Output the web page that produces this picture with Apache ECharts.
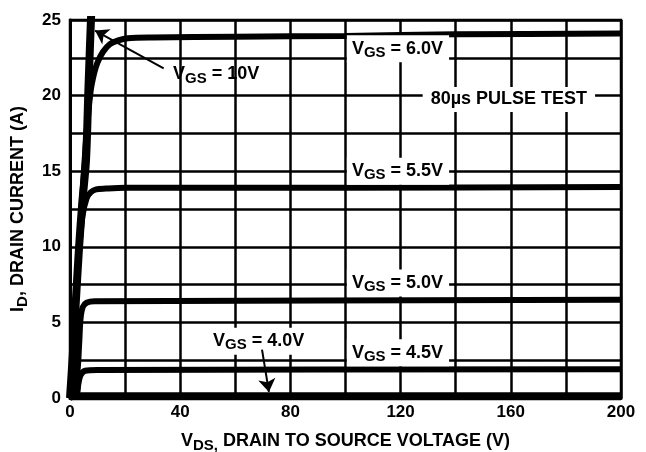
<!DOCTYPE html>
<html>
<head>
<meta charset="utf-8">
<script src="https://cdn.jsdelivr.net/npm/echarts@6/dist/echarts.min.js"></script>
<style>html,body{margin:0;padding:0;background:#fff}#chart{width:646px;height:452px}</style>
</head>
<body>
<div id="chart"></div>
<script>
// output characteristics
const vds10 = [0, 1, 2, 3.3, 4.5, 5.8, 6.7, 7.6, 7.9];
const id10  = [0, 2.8, 6, 10, 13, 15.7, 20.5, 25, 26];
const vds60 = [0, 2, 4, 6, 7.5, 8.8, 10, 12, 14.5, 17.5, 21, 30, 60, 100, 140, 200];
const id60  = [0, 6, 12, 17.5, 20.3, 21.5, 22.2, 22.9, 23.4, 23.65, 23.8, 23.85, 23.9, 23.95, 24.05, 24.1];
const vds55 = [0, 1.5, 3, 4.5, 6, 7.5, 9.5, 13, 20, 100, 200];
const id55  = [0, 4.5, 9, 12, 13.2, 13.6, 13.8, 13.85, 13.9, 13.9, 13.95];
const vds50 = [0, 2.5, 3.3, 3.8, 4.6, 6, 9, 200];
const id50  = [0, 1.5, 3.5, 5.2, 6.0, 6.3, 6.4, 6.5];
const vds45 = [0, 2.5, 3, 3.8, 5.5, 10, 200];
const id45  = [0, 0.3, 0.9, 1.5, 1.8, 1.85, 1.9];
const vds40 = [0, 200];
const id40  = [0.12, 0.12];

const xLabelStep = 40;
const yLabelStep = 5;

const font = "'Liberation Sans', Arial, sans-serif";
const rich = {
    v: {fontSize: 18, fontWeight: 'bold', fontFamily: font, color: '#000', lineHeight: 19},
    s: {fontSize: 15, fontWeight: 'bold', fontFamily: font, color: '#000', padding: [8, 0, 0, 0]}
};

function pairs(xs, ys) {
    return xs.map(function (x, i) { return [x, ys[i]]; });
}

function curve(name, xs, ys, w) {
    return {
        name: name,
        type: 'line',
        data: pairs(xs, ys),
        smooth: 0.3,
        showSymbol: false,
        symbol: 'none',
        lineStyle: {color: '#000', width: w},
        z: 3,
        silent: true
    };
}

const notes = [
    {value: [35.6, 21.4], label: {formatter: '{v|V}{s|GS}{v| = 10V}', backgroundColor: 'transparent'}},
    {value: [100.5, 23.1], label: {formatter: '{v|V}{s|GS}{v| = 6.0V}'}},
    {value: [159.3, 19.75], label: {formatter: '{v|80µs PULSE TEST}', position: 'inside', padding: [3, 8, 3, 8]}},
    {value: [100.5, 15.0], label: {formatter: '{v|V}{s|GS}{v| = 5.5V}'}},
    {value: [100.5, 7.6], label: {formatter: '{v|V}{s|GS}{v| = 5.0V}'}},
    {value: [100.5, 3.0], label: {formatter: '{v|V}{s|GS}{v| = 4.5V}'}},
    {value: [50.1, 3.75], label: {formatter: '{v|V}{s|GS}{v| = 4.0V}'}}
];

let myChart = echarts.init(document.getElementById('chart'));
myChart.setOption({
    backgroundColor: '#fff',
    animation: false,
    grid: {
        left: 70, right: 25, top: 20, bottom: 54,
        outerBoundsMode: 'none', containLabel: false,
        show: true, borderColor: '#000', borderWidth: 2.5
    },
    xAxis: {
        type: 'value', min: 0, max: 200, interval: 20,
        name: '{v|V}{s|DS,}{v| DRAIN TO SOURCE VOLTAGE (V)}',
        nameLocation: 'middle', nameGap: 32,
        nameTextStyle: {rich: rich},
        axisLine: {show: true, lineStyle: {color: '#000', width: 3}},
        axisTick: {show: false},
        splitLine: {show: true, lineStyle: {color: '#000', width: 2.5}},
        axisLabel: {
            margin: 6, color: '#000', fontSize: 17, fontWeight: 'bold', fontFamily: font,
            formatter: function (v) { return v % xLabelStep === 0 ? v : ''; }
        }
    },
    yAxis: {
        type: 'value', min: 0, max: 25, interval: 2.5,
        name: '{v|I}{s|D}{v|, DRAIN CURRENT (A)}',
        nameLocation: 'middle', nameGap: 40, nameRotate: 90,
        nameTextStyle: {rich: rich},
        axisLine: {show: true, lineStyle: {color: '#000', width: 3}},
        axisTick: {show: false},
        splitLine: {show: true, lineStyle: {color: '#000', width: 2.5}},
        axisLabel: {
            margin: 9, color: '#000', fontSize: 17, fontWeight: 'bold', fontFamily: font,
            formatter: function (v) { return v % yLabelStep === 0 ? v : ''; }
        }
    },
    series: [
        curve('VGS=4.0V', vds40, id40, 8),
        curve('VGS=4.5V', vds45, id45, 6),
        curve('VGS=5.0V', vds50, id50, 6),
        curve('VGS=5.5V', vds55, id55, 6),
        curve('VGS=6.0V', vds60, id60, 6),
        curve('VGS=10V', vds10, id10, 8),
        {
            name: 'notes',
            type: 'scatter',
            symbolSize: 0,
            silent: true,
            z: 4,
            itemStyle: {color: '#000', opacity: 1},
            data: notes,
            label: {
                show: true, position: 'right', distance: 0,
                color: '#000', textBorderWidth: 0, opacity: 1,
                backgroundColor: '#fff', padding: [2, 6, 2, 5],
                rich: rich
            },
            markLine: {
                silent: true,
                symbol: ['none', 'arrow'],
                symbolSize: 13,
                label: {show: false},
                itemStyle: {color: '#000', opacity: 1},
                lineStyle: {color: '#000', width: 2, type: 'solid', opacity: 1},
                data: [
                    [{coord: [34, 21.8]}, {coord: [9.1, 24.3]}],
                    [{coord: [69.7, 3.2]}, {coord: [72.2, 0.4]}]
                ]
            }
        }
    ]
});
</script>
</body>
</html>
